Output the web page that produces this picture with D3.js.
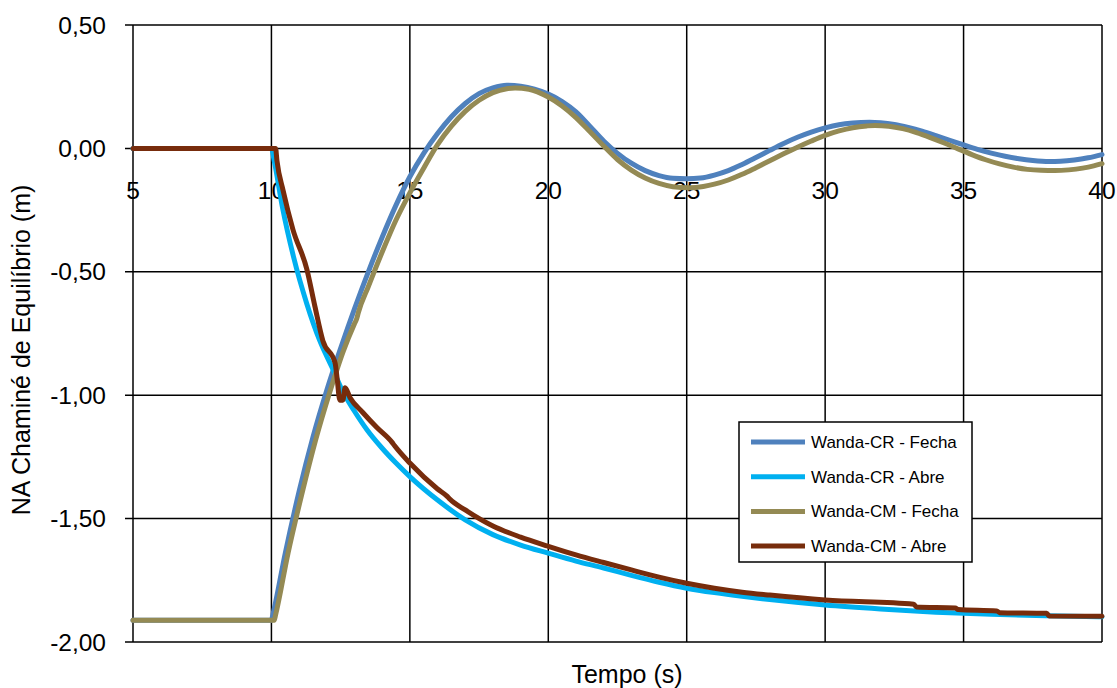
<!doctype html>
<html lang="pt">
<head>
<meta charset="UTF-8">
<title>NA Chaminé de Equilíbrio</title>
<style>
  body { margin: 0; background: #fff; }
  svg { display: block; font-family: "Liberation Sans", Arial, sans-serif; }
</style>
</head>
<body>
<div id="chart"></div>
<script src="https://d3js.org/d3.v7.min.js"></script>
<script>
  // tempo (s) / nivel (m)
  const crFechaT = [5, 10, 10.05, 10.5, 11, 11.5, 12, 12.5, 13, 13.5, 14, 14.5, 15, 15.5, 16, 16.5, 17, 17.5, 18, 18.5, 19, 19.5, 20, 20.5, 21, 21.5, 22, 22.5, 23, 23.5, 24, 24.5, 25, 25.5, 26, 26.5, 27, 27.5, 28, 28.5, 29, 29.5, 30, 30.5, 31, 31.6, 32, 32.5, 33, 33.5, 34, 34.5, 35, 35.5, 36, 36.5, 37, 37.5, 38.1, 38.5, 39, 39.5, 40]
  const crFechaV = [-1.912, -1.912, -1.89, -1.64, -1.39, -1.17, -0.98, -0.81, -0.65, -0.50, -0.36, -0.23, -0.115, -0.02, 0.06, 0.128, 0.182, 0.222, 0.245, 0.256, 0.252, 0.24, 0.22, 0.19, 0.148, 0.09, 0.03, -0.02, -0.06, -0.09, -0.11, -0.121, -0.123, -0.12, -0.108, -0.09, -0.065, -0.037, -0.008, 0.02, 0.045, 0.066, 0.083, 0.096, 0.103, 0.106, 0.104, 0.097, 0.085, 0.07, 0.052, 0.033, 0.014, -0.004, -0.019, -0.032, -0.042, -0.049, -0.053, -0.052, -0.047, -0.038, -0.025]

  const crAbreT = [5, 10, 10.1, 10.4, 10.8, 11.28, 11.75, 12.2, 12.6, 13, 13.45, 14, 14.5, 15, 16, 17, 18, 19, 20, 21, 22, 23, 24, 25, 26, 27, 28, 30, 32, 34, 36, 38, 40]
  const crAbreV = [0, 0, -0.05, -0.24, -0.44, -0.63, -0.78, -0.89, -0.99, -1.065, -1.14, -1.215, -1.275, -1.33, -1.425, -1.505, -1.565, -1.607, -1.64, -1.672, -1.70, -1.73, -1.758, -1.782, -1.80, -1.815, -1.828, -1.85, -1.866, -1.879, -1.888, -1.894, -1.898]

  const cmFechaT = [5, 10.1, 10.15, 10.6, 11.1, 11.6, 12.1, 12.6, 13.0, 13.08, 13.14, 13.5, 14, 14.5, 15, 15.5, 16, 16.5, 17, 17.5, 18, 18.5, 18.8, 19.3, 20, 20.5, 21, 21.5, 22, 22.5, 23, 23.5, 24, 24.5, 25.1, 25.6, 26, 26.5, 27, 27.5, 28, 28.5, 29, 29.5, 30, 30.5, 31, 31.5, 31.8, 32.3, 32.8, 33.3, 33.8, 34.3, 34.8, 35.3, 35.8, 36.3, 36.8, 37.3, 37.8, 38.3, 38.8, 39.3, 39.7, 40]
  const cmFechaV = [-1.912, -1.912, -1.89, -1.64, -1.40, -1.18, -0.99, -0.82, -0.71, -0.69, -0.665, -0.56, -0.42, -0.29, -0.18, -0.08, 0.015, 0.09, 0.15, 0.195, 0.226, 0.242, 0.245, 0.24, 0.208, 0.172, 0.125, 0.068, 0.01, -0.045, -0.088, -0.12, -0.142, -0.155, -0.159, -0.154, -0.145, -0.128, -0.105, -0.078, -0.05, -0.022, 0.005, 0.03, 0.053, 0.071, 0.084, 0.091, 0.093, 0.09, 0.08, 0.064, 0.044, 0.022, -0.002, -0.025, -0.046, -0.063, -0.076, -0.085, -0.089, -0.09, -0.087, -0.08, -0.071, -0.062]

  const cmAbreT = [5, 10.15, 10.2, 10.42, 10.78, 11.28, 11.57, 11.86, 12.3, 12.38, 12.47, 12.58, 12.66, 12.84, 13.3, 13.8, 14.35, 14.45, 15, 16, 16.35, 16.45, 17, 18, 19, 20, 21, 22, 23, 24, 25, 26, 27, 28, 30, 33.2, 33.3, 34.7, 34.8, 36.2, 36.3, 38.0, 38.1, 40]
  const cmAbreV = [0, 0, -0.05, -0.17, -0.33, -0.49, -0.64, -0.78, -0.87, -0.94, -1.02, -1.02, -0.97, -1.01, -1.07, -1.13, -1.19, -1.205, -1.275, -1.38, -1.41, -1.422, -1.465, -1.53, -1.575, -1.612, -1.647, -1.678, -1.708, -1.737, -1.762, -1.782, -1.798, -1.81, -1.83, -1.847, -1.858, -1.862, -1.868, -1.874, -1.881, -1.884, -1.895, -1.896]

  const seriesNames = ['Wanda-CR - Fecha', 'Wanda-CR - Abre', 'Wanda-CM - Fecha', 'Wanda-CM - Abre']
  const seriesColors = ['#4f81bd', '#00b0f0', '#948a54', '#772c0c']
  const xTicks = [5, 10, 15, 20, 25, 30, 35, 40]
  const yTicks = [0.5, 0, -0.5, -1, -1.5, -2]

  const series = [
    [crFechaT, crFechaV],
    [crAbreT, crAbreV],
    [cmFechaT, cmFechaV],
    [cmAbreT, cmAbreV]
  ].map(([t, v], i) => ({
    name: seriesNames[i],
    color: seriesColors[i],
    values: t.map((d, j) => ({ t: d, v: v[j] }))
  }))

  const width = 1117
  const height = 688
  const margin = { top: 25, right: 15, bottom: 46, left: 133 }

  const svg = d3.select('#chart')
    .append('svg')
    .attr('width', width)
    .attr('height', height)

  const x = d3.scaleLinear()
    .domain([5, 40])
    .range([margin.left, width - margin.right])

  const y = d3.scaleLinear()
    .domain([-2, 0.5])
    .range([height - margin.bottom, margin.top])

  const comma = d => d3.format('.2f')(d).replace('.', ',').replace('−', '-')

  // grade
  svg.append('g')
    .selectAll('line')
    .data(yTicks)
    .enter()
    .append('line')
    .attr('x1', margin.left - 8)
    .attr('x2', width - margin.right)
    .attr('y1', d => y(d))
    .attr('y2', d => y(d))
    .attr('stroke', '#000')
    .attr('stroke-width', 1.5)

  svg.append('g')
    .selectAll('line')
    .data(xTicks)
    .enter()
    .append('line')
    .attr('x1', d => x(d))
    .attr('x2', d => x(d))
    .attr('y1', y(0.5))
    .attr('y2', y(-2))
    .attr('stroke', '#000')
    .attr('stroke-width', 1.5)

  // rotulos
  svg.append('g')
    .selectAll('text')
    .data(yTicks)
    .enter()
    .append('text')
    .attr('x', margin.left - 27)
    .attr('y', d => y(d))
    .attr('dy', '0.35em')
    .attr('text-anchor', 'end')
    .attr('font-size', 24.5)
    .text(comma)

  svg.append('g')
    .selectAll('text')
    .data(xTicks)
    .enter()
    .append('text')
    .attr('x', d => x(d))
    .attr('y', y(0) + 51)
    .attr('text-anchor', 'middle')
    .attr('font-size', 24.5)
    .text(d => d)

  const line = d3.line()
    .x(d => x(d.t))
    .y(d => y(d.v))
    .curve(d3.curveMonotoneX)

  svg.append('g')
    .selectAll('path')
    .data(series)
    .enter()
    .append('path')
    .attr('d', d => line(d.values))
    .attr('fill', 'none')
    .attr('stroke', d => d.color)
    .attr('stroke-width', 5)
    .attr('stroke-linejoin', 'round')
    .attr('stroke-linecap', 'round')

  // titulos dos eixos
  svg.append('text')
    .attr('x', 627)
    .attr('y', 683)
    .attr('text-anchor', 'middle')
    .attr('font-size', 25)
    .text('Tempo (s)')

  svg.append('text')
    .attr('transform', 'translate(30, 350) rotate(-90)')
    .attr('text-anchor', 'middle')
    .attr('font-size', 25)
    .text('NA Chaminé de Equilíbrio (m)')

  // legenda
  const legend = svg.append('g')
    .attr('transform', 'translate(739, 422)')

  legend.append('rect')
    .attr('width', 233)
    .attr('height', 140)
    .attr('fill', '#fff')
    .attr('stroke', '#000')
    .attr('stroke-width', 1.5)

  const item = legend.selectAll('g.item')
    .data(series)
    .enter()
    .append('g')
    .attr('class', 'item')
    .attr('transform', (d, i) => `translate(0, ${20 + i * 34.7})`)

  item.append('line')
    .attr('x1', 12)
    .attr('x2', 66)
    .attr('stroke', d => d.color)
    .attr('stroke-width', 5)

  item.append('text')
    .attr('x', 72)
    .attr('dy', '0.35em')
    .attr('font-size', 17)
    .text(d => d.name)
</script>
</body>
</html>
